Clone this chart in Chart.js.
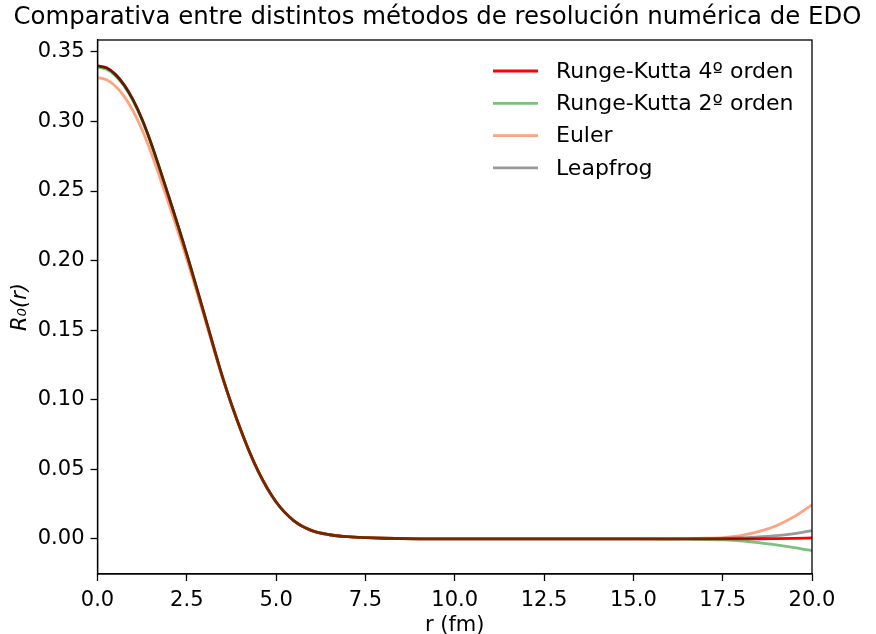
<!DOCTYPE html>
<html>
<head>
<meta charset="utf-8">
<script src="https://cdn.jsdelivr.net/npm/chart.js@4"></script>
<style>
  html, body { margin: 0; padding: 0; background: #fff; }
  #wrap { width: 876px; height: 634px; }
</style>
</head>
<body>
<div id="wrap"><canvas id="chart" width="876" height="634"></canvas></div>
<script>
const rValues = [0, 0.25, 0.5, 0.75, 1, 1.25, 1.5, 2, 2.5, 3, 3.5, 4, 4.5, 5, 5.5, 6, 6.5, 7, 7.5, 8, 9, 10, 11, 12, 13, 14, 15, 16, 16.5, 17, 17.5, 18, 18.5, 19, 19.5, 20];

const rk4 = [0.340, 0.3385, 0.3338, 0.3261, 0.3153, 0.3014, 0.2844, 0.2455, 0.2045, 0.1605, 0.1163, 0.0790, 0.0485, 0.0265, 0.0130, 0.0060, 0.0030, 0.0016, 0.0009, 0.0005, 0.0001, 0, 0, 0, 0, 0, 0, 0, 0, 0, 0, 0.0001, 0.0001, 0.0002, 0.0004, 0.0007];
const rk2 = [0.339, 0.3375, 0.3329, 0.3253, 0.3146, 0.3008, 0.2840, 0.2453, 0.2044, 0.1604, 0.1163, 0.0790, 0.0485, 0.0265, 0.0130, 0.0060, 0.0030, 0.0016, 0.0009, 0.0005, 0.0001, 0, 0, 0, 0, 0, 0, -0.0001, -0.0002, -0.0004, -0.0007, -0.0013, -0.0026, -0.0043, -0.0062, -0.0084];
const euler = [0.3315, 0.3300, 0.3254, 0.3178, 0.3073, 0.2938, 0.2775, 0.2405, 0.2010, 0.1585, 0.1155, 0.0788, 0.0485, 0.0265, 0.0130, 0.0060, 0.0030, 0.0016, 0.0009, 0.0005, 0.0001, 0, 0, 0, 0, 0, 0, 0.0001, 0.0002, 0.0005, 0.0010, 0.0024, 0.0052, 0.0095, 0.0160, 0.0245];
const leapfrog = [0.340, 0.3385, 0.3338, 0.3261, 0.3153, 0.3014, 0.2844, 0.2455, 0.2045, 0.1605, 0.1163, 0.0790, 0.0485, 0.0265, 0.0130, 0.0060, 0.0030, 0.0016, 0.0009, 0.0005, 0.0001, 0, 0, 0, 0, 0, 0, 0, 0.0001, 0.0002, 0.0004, 0.0008, 0.0014, 0.0024, 0.0038, 0.0060];

const xTicks = [0, 2.5, 5, 7.5, 10, 12.5, 15, 17.5, 20];
const yTicks = [0, 0.05, 0.10, 0.15, 0.20, 0.25, 0.30, 0.35];

const FONT = 'DejaVu Sans';

const toPoints = (ys) => ys.map((y, i) => ({ x: rValues[i], y: y }));

// Frame, title and legend drawn the way matplotlib lays them out
const decorPlugin = {
  id: 'decor',
  afterDraw(chart) {
    const ctx = chart.ctx;
    const a = chart.chartArea;
    ctx.save();
    ctx.strokeStyle = '#000';
    ctx.lineWidth = 1.3;
    ctx.strokeRect(a.left, a.top, a.right - a.left, a.bottom - a.top);

    ctx.fillStyle = '#000';
    ctx.font = `24.4px "${FONT}"`;
    ctx.textAlign = 'center';
    ctx.textBaseline = 'middle';
    ctx.fillText('Comparativa entre distintos métodos de resolución numérica de EDO', 437.5, 18);

    ctx.font = `22px "${FONT}"`;
    ctx.textAlign = 'left';
    chart.data.datasets.forEach((ds, i) => {
      const y = 71 + i * 32.3;
      ctx.strokeStyle = ds.borderColor;
      ctx.lineWidth = ds.borderWidth;
      ctx.beginPath();
      ctx.moveTo(493, y);
      ctx.lineTo(538, y);
      ctx.stroke();
      ctx.fillStyle = '#000';
      ctx.fillText(ds.label, 556, y + 1);
    });
    ctx.restore();
  }
};

const ctx = document.getElementById('chart').getContext('2d');
new Chart(ctx, {
  type: 'line',
  data: {
    datasets: [
      { label: 'Runge-Kutta 4º orden', data: toPoints(rk4), borderColor: '#ff0000', borderWidth: 2.8, order: 4 },
      { label: 'Runge-Kutta 2º orden', data: toPoints(rk2), borderColor: 'rgba(0,128,0,0.5)', borderWidth: 2.8, order: 3 },
      { label: 'Euler', data: toPoints(euler), borderColor: 'rgba(255,69,0,0.5)', borderWidth: 2.8, order: 2 },
      { label: 'Leapfrog', data: toPoints(leapfrog), borderColor: 'rgba(0,0,0,0.4)', borderWidth: 2.8, order: 1 },
    ],
  },
  options: {
    responsive: false,
    animation: false,
    parsing: false,
    elements: {
      point: { radius: 0 },
      line: { cubicInterpolationMode: 'monotone', fill: false },
    },
    layout: { padding: { top: 40, right: 64, left: 0, bottom: 0 } },
    plugins: {
      legend: { display: false },
      title: { display: false },
      tooltip: { enabled: false },
    },
    scales: {
      x: {
        type: 'linear',
        min: 0,
        max: 20,
        afterBuildTicks: (scale) => { scale.ticks = xTicks.map(v => ({ value: v })); },
        afterFit: (scale) => { scale.height = 60; },
        grid: { drawOnChartArea: false, drawTicks: true, tickLength: 7, tickColor: '#000', tickWidth: 1.3 },
        border: { display: true, color: '#000', width: 1.3 },
        ticks: {
          color: '#000',
          font: { family: FONT, size: 21 },
          padding: 7,
          maxRotation: 0,
          autoSkip: false,
          callback: (v) => Number(v).toFixed(1),
        },
        title: {
          display: true,
          text: 'r (fm)',
          color: '#000',
          font: { family: FONT, size: 21 },
          padding: { top: 0, bottom: -4 },
        },
      },
      y: {
        type: 'linear',
        min: -0.0252,
        max: 0.3585,
        afterBuildTicks: (scale) => { scale.ticks = yTicks.map(v => ({ value: v })); },
        afterFit: (scale) => { scale.width = 97.5; },
        grid: { drawOnChartArea: false, drawTicks: true, tickLength: 7, tickColor: '#000', tickWidth: 1.3 },
        border: { display: true, color: '#000', width: 1.3 },
        ticks: {
          color: '#000',
          font: { family: FONT, size: 21 },
          padding: 6,
          autoSkip: false,
          callback: (v) => Number(v).toFixed(2),
        },
        title: {
          display: true,
          text: 'R₀(r)',
          color: '#000',
          font: { family: FONT, size: 21, style: 'italic' },
          padding: { top: 8, bottom: 0 },
        },
      },
    },
  },
  plugins: [decorPlugin],
});
</script>
</body>
</html>
